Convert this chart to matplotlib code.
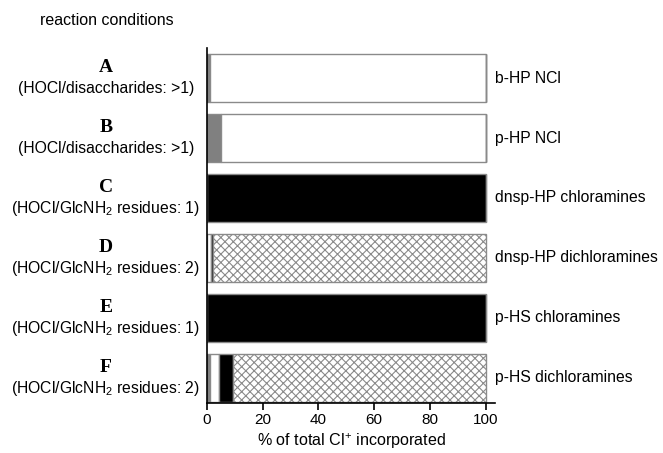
import matplotlib
matplotlib.use("Agg")
import matplotlib.pyplot as plt
import numpy as np

plt.rcParams['font.family'] = ['Liberation Sans', 'DejaVu Sans']
plt.rcParams['mathtext.fontset'] = 'custom'
plt.rcParams['mathtext.rm'] = 'Liberation Sans'
plt.rcParams['mathtext.it'] = 'Liberation Sans'
plt.rcParams['hatch.color'] = '#8a8a8a'
plt.rcParams['hatch.linewidth'] = 0.8

letters = ["A", "B", "C", "D", "E", "F"]
conditions = ["(HOCl/disaccharides: >1)", "(HOCl/disaccharides: >1)",
              "(HOCl/GlcNH$_2$ residues: 1)", "(HOCl/GlcNH$_2$ residues: 2)",
              "(HOCl/GlcNH$_2$ residues: 1)", "(HOCl/GlcNH$_2$ residues: 2)"]
products = ["b-HP NCl", "p-HP NCl", "dnsp-HP chloramines",
            "dnsp-HP dichloramines", "p-HS chloramines", "p-HS dichloramines"]
grey_pct = [1.2, 5.0, 0.0, 0.0, 0.0, 1.0]
white_pct = [98.8, 95.0, 0.0, 1.4, 0.0, 3.3]
black_pct = [0.0, 0.0, 100.0, 0.9, 100.0, 5.0]
hatch_pct = [0.0, 0.0, 0.0, 97.7, 0.0, 90.7]

fig = plt.figure(figsize=(6.63, 4.53), dpi=100)
ax = fig.add_axes([0.312, 0.110, 0.435, 0.784])

y = np.arange(len(letters))[::-1]
h = 0.8
left = np.zeros(len(letters))
for vals, fc, hatch in [(grey_pct, '#808080', None), (white_pct, 'white', None),
                        (black_pct, 'black', None), (hatch_pct, 'white', 'xxxx')]:
    ax.barh(y, vals, height=h, left=left, color=fc, edgecolor='#8a8a8a',
            linewidth=1.0, hatch=hatch)
    left = left + np.array(vals)

ax.set_xlim(0, 103.5)
ax.set_ylim(-0.42, 5.5)
ax.set_xticks([0, 20, 40, 60, 80, 100])
ax.set_yticks([])
ax.spines['top'].set_visible(False)
ax.spines['right'].set_visible(False)
ax.spines['left'].set_linewidth(1.2)
ax.spines['bottom'].set_linewidth(1.2)
ax.tick_params(axis='x', length=5, width=1.2, labelsize=11, direction='out', pad=2)

for yi, let, cond, prod in zip(y, letters, conditions, products):
    ax.text(-0.35, yi + 0.17, let, transform=ax.get_yaxis_transform(),
            ha='center', va='center', fontsize=14, fontweight='bold',
            family='Liberation Serif')
    ax.text(-0.35, yi - 0.17, cond, transform=ax.get_yaxis_transform(),
            ha='center', va='center', fontsize=11.3)
    ax.text(1.0, yi, prod, transform=ax.get_yaxis_transform(),
            ha='left', va='center', fontsize=11.3)

fig.text(0.161, 0.955, "reaction conditions", ha='center', va='center', fontsize=11.5)
fig.text(0.53, 0.027, "% of total Cl$^{+}$ incorporated", ha='center', va='center',
         fontsize=11.6)

fig.savefig("out.png", dpi=100)
